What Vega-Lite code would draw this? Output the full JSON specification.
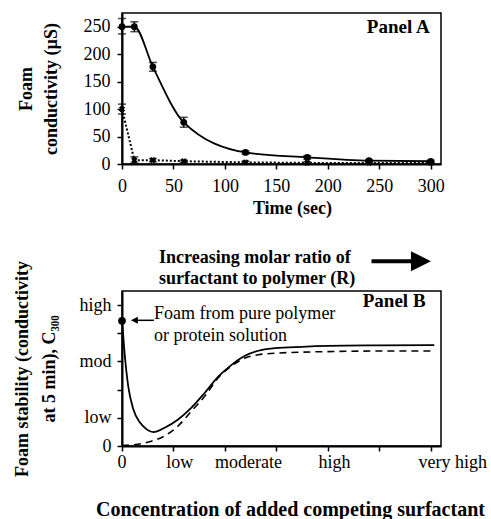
{
  "$schema": "https://vega.github.io/schema/vega-lite/v6.json",
  "padding": {"left": 13, "top": 12, "right": 0, "bottom": 0},
  "spacing": 30,
  "bounds": "full",
  "config": {
    "font": "'Liberation Serif', 'Times New Roman', serif",
    "view": {"stroke": "black", "strokeWidth": 1.5},
    "axis": {"grid": false, "domainColor": "black", "domainWidth": 2, "tickColor": "black", "tickWidth": 1.5, "tickSize": 5, "labelColor": "black", "labelFont": "'Liberation Serif', 'Times New Roman', serif", "labelFontSize": 18, "titleFont": "'Liberation Serif', 'Times New Roman', serif", "titleFontSize": 18, "titleFontWeight": "bold", "titleColor": "black"},
    "text": {"font": "'Liberation Serif', 'Times New Roman', serif", "fontSize": 18, "color": "black"}
  },
  "vconcat": [
    {
      "width": 319,
      "height": 151,
      "data": {"values": [
        {"s": "solid", "t": 0, "c": 250, "lo": 237, "hi": 265},
        {"s": "solid", "t": 12, "c": 250, "lo": 241, "hi": 259},
        {"s": "solid", "t": 30, "c": 177, "lo": 169, "hi": 185},
        {"s": "solid", "t": 60, "c": 76, "lo": 67, "hi": 85},
        {"s": "solid", "t": 120, "c": 21, "lo": 18, "hi": 24},
        {"s": "solid", "t": 180, "c": 12, "lo": 9, "hi": 15},
        {"s": "solid", "t": 240, "c": 6, "lo": 4, "hi": 8},
        {"s": "solid", "t": 300, "c": 5, "lo": 3, "hi": 7},
        {"s": "dotted", "t": 0, "c": 100, "lo": 91, "hi": 109},
        {"s": "dotted", "t": 12, "c": 7, "lo": 2, "hi": 13},
        {"s": "dotted", "t": 30, "c": 7, "lo": 4, "hi": 10},
        {"s": "dotted", "t": 60, "c": 5, "lo": 3, "hi": 7},
        {"s": "dotted", "t": 120, "c": 3, "lo": 1, "hi": 5},
        {"s": "dotted", "t": 180, "c": 2, "lo": 0, "hi": 4},
        {"s": "dotted", "t": 240, "c": 2, "lo": 0, "hi": 4},
        {"s": "dotted", "t": 300, "c": 2, "lo": 0, "hi": 4}
      ]},
      "encoding": {
        "x": {"field": "t", "type": "quantitative", "scale": {"domain": [0, 310], "nice": false},
              "axis": {"values": [0, 50, 100, 150, 200, 250, 300], "title": "Time (sec)", "labelPadding": 8, "titlePadding": 4, "labelFlush": false, "titleX": 170}},
        "y": {"field": "c", "type": "quantitative", "scale": {"domain": [0, 275], "nice": false},
              "axis": {"values": [0, 50, 100, 150, 200, 250], "title": ["Foam", "conductivity (µS)"], "titleLineHeight": 25, "labelPadding": 7, "titlePadding": 23}}
      },
      "layer": [
        {"transform": [{"filter": "datum.s === 'solid'"}], "mark": {"type": "line", "interpolate": "monotone", "color": "black", "strokeWidth": 1.8}},
        {"transform": [{"filter": "datum.s === 'dotted'"}], "mark": {"type": "line", "color": "black", "strokeWidth": 2, "strokeDash": [2, 2]}},
        {"mark": {"type": "rule", "color": "black", "strokeWidth": 1.5}, "encoding": {"y": {"field": "lo", "type": "quantitative"}, "y2": {"field": "hi"}}},
        {"mark": {"type": "tick", "orient": "horizontal", "color": "black", "thickness": 1.5, "size": 8}, "encoding": {"y": {"field": "lo", "type": "quantitative"}}},
        {"mark": {"type": "tick", "orient": "horizontal", "color": "black", "thickness": 1.5, "size": 8}, "encoding": {"y": {"field": "hi", "type": "quantitative"}}},
        {"transform": [{"filter": "datum.s === 'solid'"}], "mark": {"type": "point", "shape": "circle", "filled": true, "color": "black", "size": 45, "opacity": 1}},
        {"transform": [{"filter": "datum.s === 'dotted'"}], "mark": {"type": "point", "shape": "cross", "angle": 45, "filled": true, "color": "black", "size": 40, "opacity": 1}},
        {"data": {"values": [{"t": 299, "c": 238, "label": "Panel A"}]},
         "mark": {"type": "text", "align": "right", "baseline": "alphabetic", "fontWeight": "bold", "fontSize": 19},
         "encoding": {"text": {"field": "label"}}}
      ]
    },
    {
      "width": 319,
      "height": 155,
      "encoding": {
        "x": {"field": "x", "type": "quantitative", "scale": {"domain": [0, 6.2], "nice": false},
              "axis": {"values": [0, 1, 2, 3, 4, 5, 6], "labels": false, "title": "Concentration of added competing surfactant", "titleFontSize": 20, "titlePadding": 48, "titleX": 168}},
        "y": {"field": "y", "type": "quantitative", "scale": {"domain": [0, 5.5], "nice": false},
              "axis": {"values": [0, 1, 2, 3, 4, 5], "labelExpr": "datum.value == 0 ? '0' : datum.value == 1 ? 'low' : datum.value == 3 ? 'mod' : datum.value == 5 ? 'high' : ''", "title": ["Foam stability (conductivity", "at 5 min), C₃₀₀"], "titleLineHeight": 27, "labelPadding": 6, "titlePadding": 20}}
      },
      "layer": [
        {"data": {"values": [
          {"x": 0, "y": 4.44}, {"x": 0.05, "y": 3.3}, {"x": 0.12, "y": 2.13}, {"x": 0.22, "y": 1.3}, {"x": 0.35, "y": 0.83},
          {"x": 0.48, "y": 0.59}, {"x": 0.61, "y": 0.49}, {"x": 0.83, "y": 0.65}, {"x": 1.09, "y": 0.94}, {"x": 1.35, "y": 1.36},
          {"x": 1.61, "y": 1.89}, {"x": 1.87, "y": 2.46}, {"x": 2.13, "y": 2.88}, {"x": 2.39, "y": 3.2}, {"x": 2.65, "y": 3.38},
          {"x": 2.97, "y": 3.47}, {"x": 3.5, "y": 3.52}, {"x": 4.0, "y": 3.55}, {"x": 5.0, "y": 3.57}, {"x": 6.07, "y": 3.58}
        ]},
         "mark": {"type": "line", "interpolate": "monotone", "color": "black", "strokeWidth": 1.8}},
        {"data": {"values": [
          {"x": 0, "y": 0.02}, {"x": 0.31, "y": 0.06}, {"x": 0.57, "y": 0.17}, {"x": 0.83, "y": 0.36}, {"x": 1.09, "y": 0.71},
          {"x": 1.35, "y": 1.24}, {"x": 1.61, "y": 1.77}, {"x": 1.87, "y": 2.42}, {"x": 2.13, "y": 2.84}, {"x": 2.39, "y": 3.12},
          {"x": 2.65, "y": 3.24}, {"x": 2.97, "y": 3.29}, {"x": 3.5, "y": 3.33}, {"x": 4.0, "y": 3.35}, {"x": 5.0, "y": 3.37}, {"x": 6.07, "y": 3.37}
        ]},
         "mark": {"type": "line", "interpolate": "monotone", "color": "black", "strokeWidth": 1.6, "strokeDash": [7, 5]}},
        {"data": {"values": [{"x": 0, "y": 4.44}]},
         "mark": {"type": "point", "shape": "circle", "filled": true, "color": "black", "size": 60, "opacity": 1}},
        {"data": {"values": [{"x": 0.3, "x2": 0.62, "y": 4.46}]},
         "mark": {"type": "rule", "color": "black", "strokeWidth": 1.5},
         "encoding": {"x2": {"field": "x2"}}},
        {"data": {"values": [{"x": 0.24, "y": 4.46}]},
         "mark": {"type": "point", "shape": "M1,-1L-1,0L1,1Z", "filled": true, "color": "black", "size": 49, "opacity": 1}},
        {"data": {"values": [{"x": 4.85, "x2": 5.66, "y": 6.56}]},
         "mark": {"type": "rule", "color": "black", "strokeWidth": 4},
         "encoding": {"x2": {"field": "x2"}}},
        {"data": {"values": [{"x": 5.81, "y": 6.56}]},
         "mark": {"type": "point", "shape": "M-1,-1L1,0L-1,1Z", "filled": true, "color": "black", "size": 400, "opacity": 1}},
        {"data": {"values": [
          {"x": 0.72, "y": 6.49, "label": "Increasing molar ratio of"},
          {"x": 0.72, "y": 5.75, "label": "surfactant to polymer (R)"}
        ]},
         "mark": {"type": "text", "align": "left", "baseline": "alphabetic", "fontWeight": "bold", "fontSize": 18},
         "encoding": {"text": {"field": "label"}}},
        {"data": {"values": [
          {"x": 0.62, "y": 4.51, "label": "Foam from pure polymer"},
          {"x": 0.62, "y": 3.73, "label": "or protein solution"}
        ]},
         "mark": {"type": "text", "align": "left", "baseline": "alphabetic", "fontSize": 18},
         "encoding": {"text": {"field": "label"}}},
        {"data": {"values": [{"x": 5.9, "y": 4.94, "label": "Panel B"}]},
         "mark": {"type": "text", "align": "right", "baseline": "alphabetic", "fontWeight": "bold", "fontSize": 19},
         "encoding": {"text": {"field": "label"}}},
        {"data": {"values": [
          {"x": 0, "y": -0.78, "label": "0"},
          {"x": 1.12, "y": -0.78, "label": "low"},
          {"x": 2.46, "y": -0.78, "label": "moderate"},
          {"x": 4.13, "y": -0.78, "label": "high"},
          {"x": 6.43, "y": -0.78, "label": "very high"}
        ]},
         "mark": {"type": "text", "align": "center", "baseline": "alphabetic", "fontSize": 18},
         "encoding": {"text": {"field": "label"}}}
      ]
    }
  ]
}
